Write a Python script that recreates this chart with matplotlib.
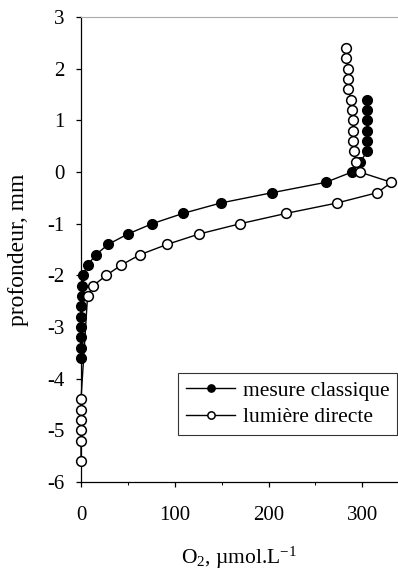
import matplotlib
matplotlib.use('Agg')
import matplotlib.pyplot as plt

plt.rcParams['font.family'] = ['Liberation Serif', 'DejaVu Serif']
plt.rcParams['mathtext.fontset'] = 'custom'
plt.rcParams['mathtext.rm'] = 'Liberation Serif'
plt.rcParams['mathtext.it'] = 'Liberation Serif:italic'
plt.rcParams['axes.unicode_minus'] = False

# mesure classique (filled markers)
depth_classique = [1.4, 1.2, 1.0, 0.8, 0.6, 0.4, 0.2, 0.0, -0.2, -0.4, -0.6, -0.8,
                   -1.0, -1.2, -1.4, -1.6, -1.8, -2.0, -2.2, -2.4, -2.6, -2.8,
                   -3.0, -3.2, -3.4, -3.6]
o2_classique = [305, 305, 305, 305, 305, 305, 298, 289, 261, 204, 149, 109,
                76, 50, 29, 16, 7, 2, 1, 1, 0.5, 0.5,
                0, 0, 0, 0]

# lumiere directe (open markers)
depth_directe = [2.4, 2.2, 2.0, 1.8, 1.6, 1.4, 1.2, 1.0, 0.8, 0.6, 0.4, 0.2, 0.0,
                 -0.2, -0.4, -0.6, -0.8, -1.0, -1.2, -1.4, -1.6, -1.8, -2.0,
                 -2.2, -2.4, -4.4, -4.6, -4.8, -5.0, -5.2, -5.6]
o2_directe = [283, 283, 285, 285, 285, 288, 289, 290, 290, 290, 291, 293, 297,
              331, 316, 273, 219, 170, 126, 92, 63, 43, 27,
              13, 7, 0, 0, 0, 0, 0, 0]

fig = plt.figure(figsize=(3.98, 5.72), dpi=100)
ax = fig.add_axes([81 / 398, 1 - 482 / 572, 317 / 398, 465 / 572])

ax.plot(o2_classique, depth_classique, '-o', color='black', lw=1.0,
        markersize=7, markerfacecolor='black', markeredgecolor='black',
        clip_on=False, zorder=3, label='mesure classique')
ax.plot(o2_directe, depth_directe, '-o', color='black', lw=1.0,
        markersize=7, markerfacecolor='white', markeredgecolor='black',
        markeredgewidth=1.1, clip_on=False, zorder=3, label='lumière directe')

ax.set_xlim(0, 338)
ax.set_ylim(-6, 3)
ax.set_xticks([0, 100, 200, 300])
ax.set_xticks([50, 150, 250], minor=True)
ax.set_yticks(range(-6, 4))
ax.tick_params(axis='both', which='major', direction='out', length=3.5,
               width=0.9, labelsize=15, colors='black')
ax.tick_params(axis='x', which='minor', direction='out', length=2.5, width=0.7)
ax.tick_params(axis='x', pad=14)
ax.tick_params(axis='y', pad=8.5)

ax.spines['right'].set_visible(False)
ax.spines['top'].set_color('#aaaaaa')
ax.spines['top'].set_linewidth(0.8)
ax.spines['left'].set_linewidth(0.9)
ax.spines['bottom'].set_linewidth(0.9)

ax.set_xlabel('O$_2$, µmol.L$^{-1}$', fontsize=15.5, labelpad=14)
ax.set_ylabel('profondeur, mm', fontsize=17)
ax.yaxis.set_label_coords((29 - 81) / 317, 0.5)

leg = ax.legend(loc='upper right', bbox_to_anchor=(397 / 398, 1 - 373 / 572),
                bbox_transform=fig.transFigure, fontsize=15.5, frameon=True,
                fancybox=False, edgecolor='black', handlelength=2.3,
                handletextpad=0.35, borderpad=0.35, labelspacing=0.3,
                borderaxespad=0, markerscale=0.75)
leg.get_frame().set_linewidth(0.8)

fig.savefig('out.png', dpi=100)
